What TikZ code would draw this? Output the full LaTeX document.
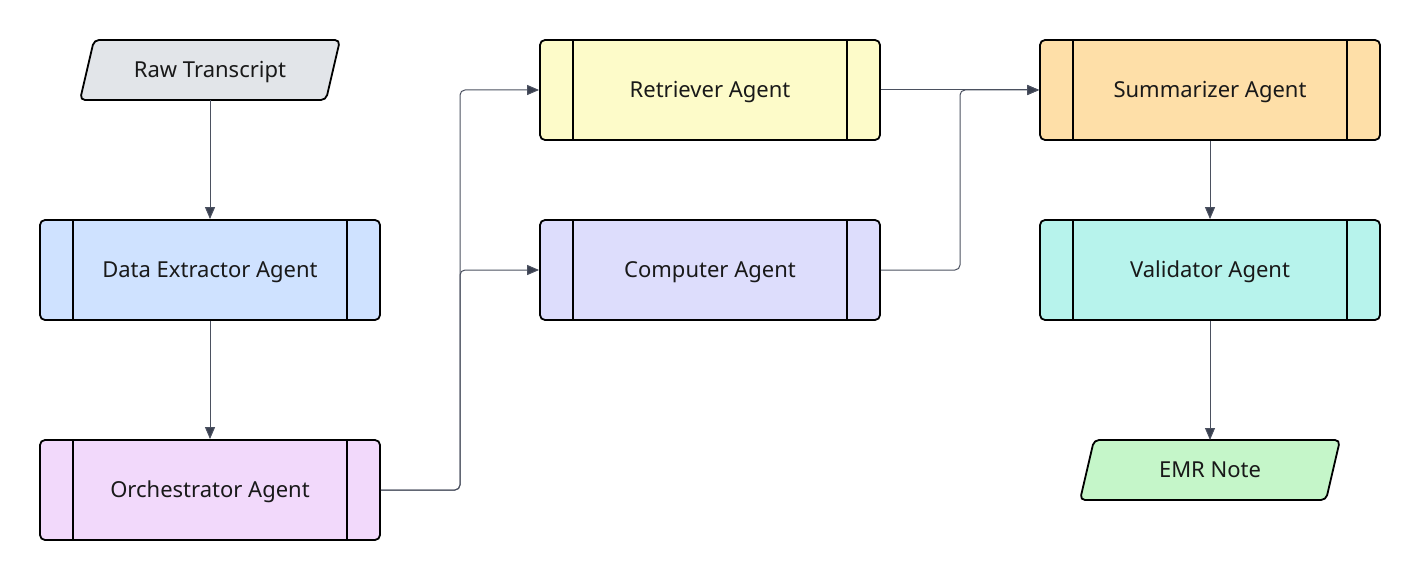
\documentclass[tikz,border=0pt]{standalone}
\usepackage{fontspec}
\setmainfont{Noto Sans}
\usetikzlibrary{arrows.meta,calc}
\definecolor{edgec}{HTML}{4B5160}
\definecolor{tipc}{HTML}{3A4050}
\definecolor{cgray}{HTML}{E2E5E9}
\definecolor{cblue}{HTML}{CFE2FF}
\definecolor{cpurp}{HTML}{F2D9FB}
\definecolor{cyell}{HTML}{FDFBC9}
\definecolor{cviol}{HTML}{DDDDFC}
\definecolor{corng}{HTML}{FEDFA8}
\definecolor{cteal}{HTML}{B7F3EC}
\definecolor{cgreen}{HTML}{C5F6C9}
\tikzset{
  agent/.style={draw=black, line width=1.8pt, rounded corners=5pt, minimum width=340pt, minimum height=100pt, font=\fontsize{22}{24}\selectfont, text=black!90, text height=15.5pt, text depth=0pt},
  io/.style={font=\fontsize{22}{24}\selectfont, text=black!90, text height=15.5pt, text depth=0pt},
  conn/.style={draw=edgec, line width=1pt, rounded corners=5pt, -{Triangle[length=12pt,width=10pt,fill=tipc]}},
}
\newcommand{\agentbars}[1]{%
  \draw[line width=1.8pt] ($(#1.north west)+(34,0)$) -- ($(#1.south west)+(34,0)$);
  \draw[line width=1.8pt] ($(#1.north east)+(-34,0)$) -- ($(#1.south east)+(-34,0)$);}
\newcommand{\parallelo}[4]{% name, cx, cy, fill
  \draw[fill=#4, line width=1.8pt, rounded corners=5pt] ($(#2,#3)+(-116,-30)$) -- ($(#2,#3)+(130,-30)$) -- ($(#2,#3)+(116,30)$) -- ($(#2,#3)+(-130,30)$) -- cycle;
  \coordinate (#1-n) at ($(#2,#3)+(0,-30)$); \coordinate (#1-s) at ($(#2,#3)+(0,30)$);}
\begin{document}
\begin{tikzpicture}[x=1pt,y=-1pt]
\useasboundingbox (0,0) rectangle (1420,580);
% Raw transcript
\parallelo{raw}{210}{70}{cgray}
\node[io] (rawt) at (210,70) {Raw Transcript};
% agents
\node[agent, fill=cblue] (dex) at (210,270) {Data Extractor Agent}; \agentbars{dex}
\node[agent, fill=cpurp] (orch) at (210,490) {Orchestrator Agent}; \agentbars{orch}
\node[agent, fill=cyell] (ret) at (710,90) {Retriever Agent}; \agentbars{ret}
\node[agent, fill=cviol] (comp) at (710,270) {Computer Agent}; \agentbars{comp}
\node[agent, fill=corng] (sum) at (1210,90) {Summarizer Agent}; \agentbars{sum}
\node[agent, fill=cteal] (val) at (1210,270) {Validator Agent}; \agentbars{val}
% EMR note
\parallelo{emr}{1210}{470}{cgreen}
\node[io] (emrt) at (1210,470) {EMR Note};
% connectors
\draw[conn] (raw-s) -- (dex.north);
\draw[conn] (dex.south) -- (orch.north);
\draw[conn] (orch.east) -| (460,180) |- (ret.west);
\draw[conn] (orch.east) -| (460,380) |- (comp.west);
\draw[conn] (ret.east) -- (sum.west);
\draw[conn] (comp.east) -| (960,180) |- (sum.west);
\draw[conn] (sum.south) -- (val.north);
\draw[conn] (val.south) -- (emr-n);
\end{tikzpicture}
\end{document}
